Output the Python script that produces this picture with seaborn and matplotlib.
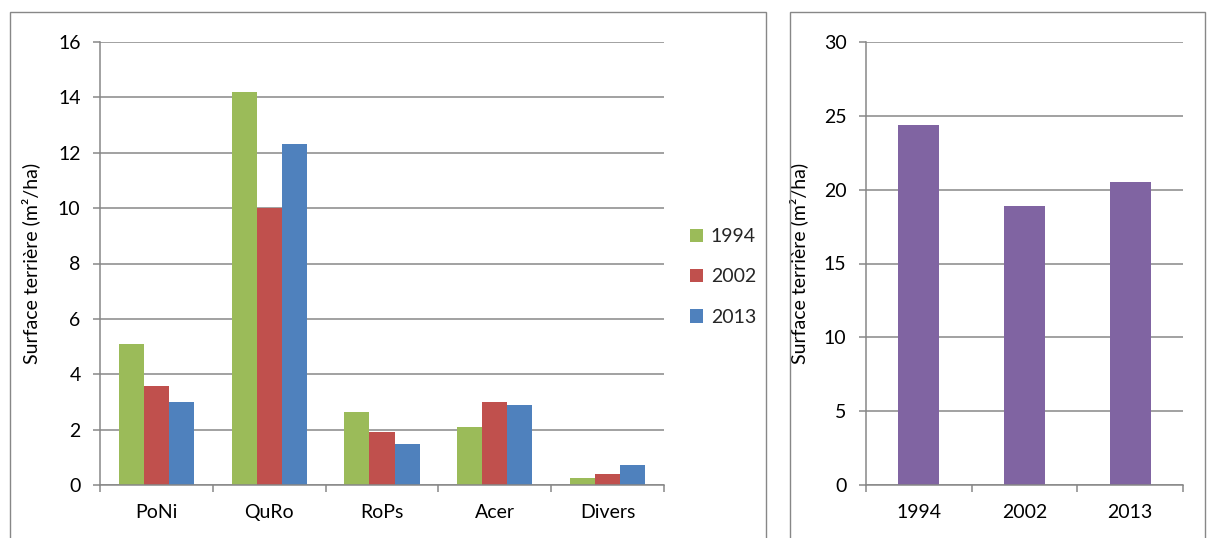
import matplotlib
matplotlib.use("Agg")
import matplotlib.pyplot as plt
import seaborn as sns
import pandas as pd
from matplotlib.patches import Rectangle

# ---- data ----
species = ["PoNi", "QuRo", "RoPs", "Acer", "Divers"]
years = ["1994", "2002", "2013"]
vals_1994 = [5.1, 14.2, 2.65, 2.1, 0.27]
vals_2002 = [3.57, 10.0, 1.92, 3.0, 0.38]
vals_2013 = [3.0, 12.3, 1.48, 2.9, 0.73]
totals = [24.4, 18.9, 20.5]
ylabel = "Surface terrière (m²/ha)"

colors = ["#9BBB59", "#C0504D", "#4F81BD"]
purple = "#8064A2"
grid_c = "#878787"

sns.set_theme(style="white")
plt.rcParams["font.family"] = ["Lato", "DejaVu Sans"]
FS = 14

rows = []
for y, vals in zip(years, [vals_1994, vals_2002, vals_2013]):
    for s, v in zip(species, vals):
        rows.append({"species": s, "year": y, "value": v})
df = pd.DataFrame(rows)
df_tot = pd.DataFrame({"year": years, "value": totals})

W, H = 1208, 538
fig = plt.figure(figsize=(W / 100, H / 100), dpi=100)
fig.patch.set_facecolor("white")

def fx(px):
    return px / W

def fy(py):
    return 1 - py / H

# panel borders
for x0, x1 in [(10, 766), (790, 1205)]:
    fig.patches.append(Rectangle((fx(x0), fy(560)), fx(x1 - x0), (560 - 12) / H,
                                 transform=fig.transFigure, fill=False,
                                 edgecolor=grid_c, linewidth=1.0, zorder=0))

def style_axes(ax, ymax, ystep, ncat):
    ax.set_ylim(0, ymax)
    ax.set_yticks(range(0, ymax + 1, ystep))
    ax.set_xlim(-0.5, ncat - 0.5)
    ax.yaxis.grid(True, color=grid_c, linewidth=1.1)
    ax.set_axisbelow(True)
    for sp in ["top", "right"]:
        ax.spines[sp].set_visible(False)
    for sp in ["left", "bottom"]:
        ax.spines[sp].set_color(grid_c)
        ax.spines[sp].set_linewidth(1.1)
    ax.tick_params(axis="y", which="major", left=True, length=5, width=1.1,
                   color=grid_c, pad=9, labelsize=FS, labelcolor="black")
    ax.tick_params(axis="x", which="major", bottom=False, length=0, pad=14,
                   labelsize=FS, labelcolor="black")
    ax.set_xticks([i - 0.5 for i in range(ncat + 1)], minor=True)
    ax.tick_params(axis="x", which="minor", bottom=True, length=5, width=1.1,
                   color=grid_c, direction="out")
    ax.set_xlabel("")
    ax.set_ylabel(ylabel, fontsize=FS, color="black")

# ---- left chart ----
ax1 = fig.add_axes([fx(100), fy(485), fx(664 - 100), (485 - 42) / H])
sns.barplot(data=df, x="species", y="value", hue="year", order=species,
            hue_order=years, palette=colors, width=0.667, gap=0,
            saturation=1, ax=ax1, legend=True, errorbar=None, linewidth=0)
style_axes(ax1, 16, 2, len(species))
ax1.yaxis.set_label_coords((40 - 100) / 564, 0.5)
handles, labels = ax1.get_legend_handles_labels()
ax1.legend(handles, labels, loc="center left", bbox_to_anchor=(fx(672), fy(277)),
           bbox_transform=fig.transFigure, frameon=False, fontsize=FS,
           handlelength=0.7, handleheight=0.7, handletextpad=0.4,
           labelspacing=1.2)

# ---- right chart ----
ax2 = fig.add_axes([fx(866), fy(485), fx(1183 - 866), (485 - 42) / H])
sns.barplot(data=df_tot, x="year", y="value", order=years, color=purple,
            width=0.39, saturation=1, ax=ax2, errorbar=None, linewidth=0)
style_axes(ax2, 30, 5, len(years))
ax2.yaxis.set_label_coords((808 - 866) / 317, 0.5)

fig.savefig("out.png", dpi=100, facecolor="white")
